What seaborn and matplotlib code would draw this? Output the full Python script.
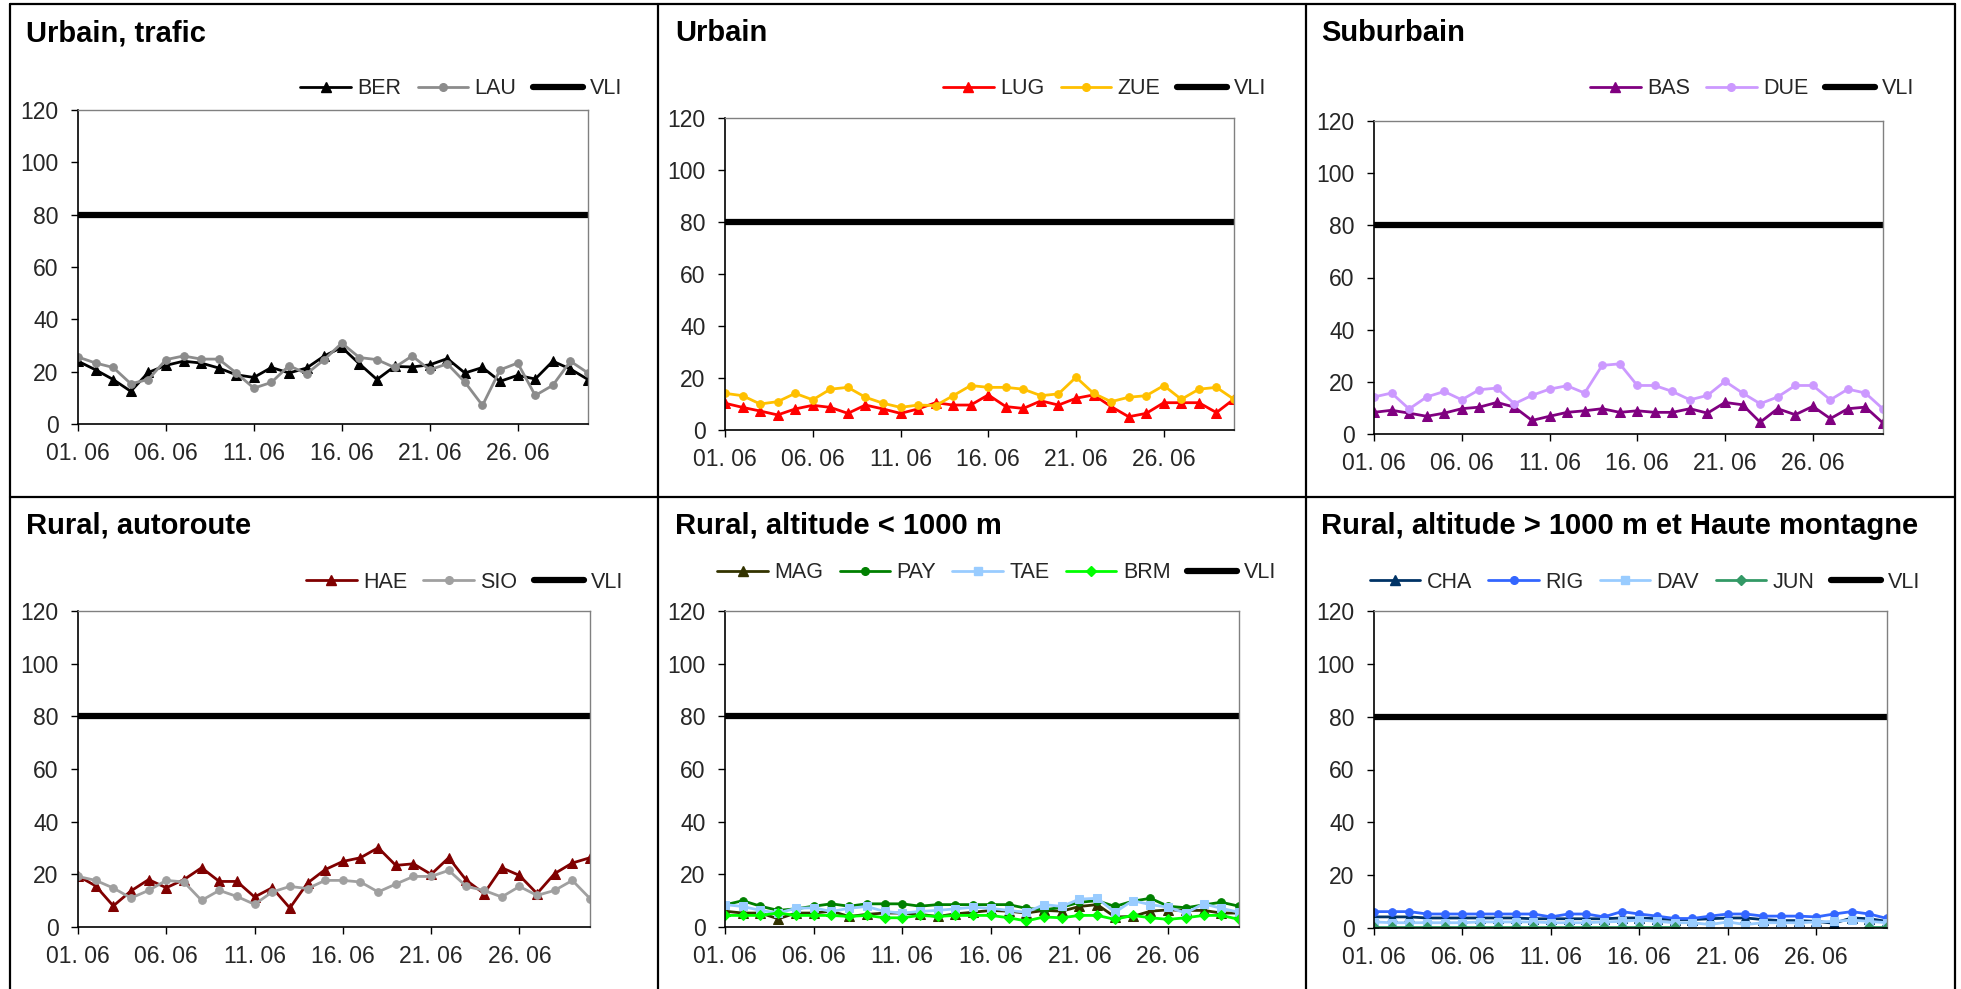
import numpy as np
import pandas as pd
import matplotlib
matplotlib.use("Agg")
import matplotlib.pyplot as plt
import seaborn as sns
from matplotlib.lines import Line2D

# ---------------- data ----------------
days = np.arange(1, 31)
tick_days = [1, 6, 11, 16, 21, 26]
tick_labels = ["01. 06", "06. 06", "11. 06", "16. 06", "21. 06", "26. 06"]
y_ticks = [0, 20, 40, 60, 80, 100, 120]
vli_value = 80

titles = ["Urbain, trafic", "Urbain", "Suburbain",
          "Rural, autoroute", "Rural, altitude < 1000 m",
          "Rural, altitude > 1000 m et Haute montagne"]

ber = [24, 20.7, 17, 12.5, 19.7, 22.4, 24, 23.3, 21.4, 18.8, 17.8, 21.6, 19.5, 21.4, 26,
       29.3, 23, 17, 22, 21.8, 22.6, 25, 19.5, 21.6, 16.3, 18.6, 17.2, 24, 21, 17]
lau = [25.6, 23.3, 21.6, 15.4, 17, 24.6, 26, 24.8, 24.8, 19.5, 13.7, 15.9, 22.3, 19.2, 24.6,
       30.9, 25.4, 24.6, 21.6, 26, 20.7, 23, 16, 7.1, 20.7, 23.3, 10.9, 14.8, 24, 19.5]

lug = [10.3, 8.7, 7.3, 5.8, 8.1, 9.5, 8.7, 6.4, 9.6, 8.1, 6.4, 8.1, 10.5, 9.6, 9.6,
       13.5, 9, 8.3, 11.2, 9.6, 12.2, 13.5, 9, 5.1, 6.4, 10.5, 10.5, 10.5, 6.7, 11.9]
zue = [14.1, 13.2, 10, 10.9, 14.1, 11.6, 15.7, 16.4, 12.6, 10.3, 8.7, 9.6, 9.4, 13.2, 17.1,
       16.4, 16.4, 15.7, 13.2, 13.9, 20.3, 14.1, 10.9, 12.6, 13.2, 17.1, 11.8, 15.7, 16.4, 11.8]

bas = [8.3, 9.1, 8, 6.8, 8, 9.7, 10.3, 12.1, 10.3, 5.2, 6.8, 8.3, 8.9, 9.7, 8.3,
       8.9, 8.3, 8.3, 9.7, 8, 12.1, 11.2, 4.5, 9.7, 7.4, 10.6, 5.9, 9.7, 10.3, 4.2]
due = [14.2, 15.7, 9.6, 14.2, 16.3, 13.1, 17, 17.6, 11.6, 14.8, 17.2, 18.5, 15.7, 26.3, 26.9,
       18.6, 18.6, 16.3, 13.1, 14.8, 20.2, 15.7, 11.6, 14.2, 18.6, 18.6, 13.1, 17.2, 15.7, 9.6]

hae = [19.4, 15.6, 8, 13.7, 18, 14.9, 18, 22.5, 17.3, 17.3, 11.4, 14.9, 7.2, 16.7, 21.8,
       24.9, 26.3, 30.1, 23.4, 24, 20, 26.3, 17.7, 12.7, 22.5, 19.6, 12.7, 20.3, 24.3, 26.3]
sio = [19.2, 17.7, 14.8, 11, 13.9, 17.7, 17.1, 10.1, 13.9, 11.6, 8.6, 13.3, 15.4, 14.6, 17.7,
       17.7, 17.1, 13.3, 16.3, 19.2, 19.2, 21.5, 15.4, 13.9, 11.4, 15.4, 12, 13.9, 17.7, 10.8]

mag = [6, 5.3, 5.3, 3.1, 5.3, 5.3, 6, 4, 4.8, 5.3, 5.3, 4.8, 4, 5, 5.6,
       6.3, 6, 5.3, 6.3, 6, 7.8, 8.5, 3.8, 4, 6, 6.5, 6.3, 6.3, 5.3, 5.3]
pay = [8.4, 10, 7.9, 6.3, 6.9, 7.9, 8.8, 7.9, 8.8, 8.8, 8.8, 7.9, 8.5, 8.5, 8.5,
       8.5, 8.5, 7.1, 6.5, 7.5, 9.4, 10, 7.8, 9.8, 10.9, 7.9, 7.3, 8.4, 9.4, 7.9]
tae = [8.5, 7.8, 6.3, 5.3, 7.1, 7.3, 5.9, 7.1, 7.8, 5.9, 5.3, 5.9, 6.3, 6.9, 7.5,
       7.1, 6.3, 5.6, 8.5, 7.8, 10.6, 10.9, 5.6, 10, 8.5, 7.5, 5.3, 8.8, 7.1, 5.6]
brm = [4.4, 4.4, 4.4, 5.3, 4.4, 4.4, 4.4, 4, 4.4, 3.5, 3.5, 4.4, 4, 4.4, 4.4,
       4.4, 3.5, 2.3, 3.8, 3.5, 4.4, 4.4, 2.9, 4.4, 3.5, 2.9, 3.5, 4.4, 4.4, 2.9]

cha = [4.2, 4.2, 4.2, 3.8, 3.8, 3.8, 3.8, 3.8, 3.8, 3.5, 3.5, 3.5, 3.5, 3.5, 3.8,
       3.8, 3.5, 3.2, 3.2, 3.5, 3.8, 3.8, 3.2, 2.8, 2.8, 2.5, 1.8, 3.8, 3.5, 2.5]
rig = [6.2, 6.2, 6.2, 5.3, 5.3, 5.3, 5.3, 5.3, 5.3, 5.3, 4.2, 5.3, 5.3, 4.2, 6.2,
       5.3, 4.5, 3.6, 3.6, 4.5, 5.3, 5.3, 4.5, 4.5, 4.5, 4.2, 5.3, 6.2, 5.3, 3.6]
dav = [2.3, 2.0, 2.0, 2.0, 2.0, 2.0, 2.3, 2.3, 2.3, 2.3, 2.0, 2.0, 2.0, 2.3, 2.5,
       3.0, 2.5, 2.0, 2.0, 1.3, 2.3, 1.3, 2.0, 2.0, 2.0, 2.3, 2.5, 3.0, 2.5, 2.0]
jun = [0.5, 0.5, 0.5, 0.5, 0.5, 0.5, 0.5, 0.5, 0.5, 0.5, 0.5, 0.5, 0.5, 0.5, 0.5,
       0.5, 0.5, 0.5, np.nan, np.nan, np.nan, np.nan, np.nan, np.nan, np.nan,
       np.nan, np.nan, np.nan, 0.5, 0.5]

panels = [
    [("BER", ber, "#000000", "^", 7), ("LAU", lau, "#8C8C8C", "o", 5.5)],
    [("LUG", lug, "#FF0000", "^", 7), ("ZUE", zue, "#FFC000", "o", 5.5)],
    [("BAS", bas, "#800080", "^", 7), ("DUE", due, "#CC99FF", "o", 5.5)],
    [("HAE", hae, "#800000", "^", 7), ("SIO", sio, "#A0A0A0", "o", 5.5)],
    [("MAG", mag, "#333300", "^", 6.5), ("PAY", pay, "#008000", "o", 5.5),
     ("TAE", tae, "#99CCFF", "s", 5.5), ("BRM", brm, "#00FF00", "D", 5.5)],
    [("CHA", cha, "#003366", "^", 6.5), ("RIG", rig, "#3366FF", "o", 5.5),
     ("DAV", dav, "#99CCFF", "s", 5.5), ("JUN", jun, "#339966", "D", 5.5)],
]

# ---------------- layout (pixels) ----------------
W, H = 1961, 989
axes_px = [(78, 110, 588, 424), (725, 118, 1234, 430), (1374, 121, 1883, 434),
           (78, 611, 590, 927), (725, 611, 1239, 927), (1374, 611, 1887, 928)]
title_px = [(26, 33), (675, 33), (1321, 33), (26, 526), (675, 526), (1321, 526)]
legend_px = [(622, 89), (1266, 89), (1914, 89), (623, 582), (1276, 573), (1920, 582)]

sns.set_theme(style="white")
plt.rcParams["font.family"] = ["Liberation Sans", "DejaVu Sans"]
tick_size = 16.5
legend_size = 15.5

fig = plt.figure(figsize=(W / 100, H / 100), dpi=100)
fig.patch.set_facecolor("white")


def fx(px):
    return px / W


def fy(py):
    return 1 - py / H


for i, (series, (l, t, r, b)) in enumerate(zip(panels, axes_px)):
    ax = fig.add_axes([fx(l), fy(b), fx(r) - fx(l), fy(t) - fy(b)])
    handles = []
    for name, vals, col, mk, ms in series:
        v = np.asarray(vals, dtype=float)
        valid = ~np.isnan(v)
        # split into contiguous runs so gaps stay gaps
        run_id = np.cumsum(~valid)
        for rid in np.unique(run_id[valid]):
            m = valid & (run_id == rid)
            sns.lineplot(x=days[m], y=v[m], ax=ax, color=col, marker=mk,
                         markersize=ms, markeredgecolor=col, linewidth=2.0,
                         estimator=None, sort=False, legend=False)
        handles.append(Line2D([], [], color=col, marker=mk, markersize=ms,
                              markeredgecolor=col, linewidth=2.0, label=name))
    sns.lineplot(x=days, y=np.full(len(days), vli_value), ax=ax, color="black",
                 linewidth=4.5, estimator=None, legend=False)
    handles.append(Line2D([], [], color="black", linewidth=4.5, label="VLI"))

    ax.set_xlim(1, 30)
    ax.set_ylim(0, 120)
    ax.set_xticks(tick_days)
    ax.set_xticklabels(tick_labels)
    ax.set_yticks(y_ticks)
    ax.set_xlabel("")
    ax.set_ylabel("")
    ax.tick_params(axis="x", direction="out", length=5, width=1, color="black",
                   labelsize=tick_size, pad=8, bottom=True)
    ax.tick_params(axis="y", direction="out", length=5, width=1, color="black",
                   labelsize=tick_size, pad=9, left=True)
    for side in ["left", "bottom"]:
        ax.spines[side].set_color("black")
        ax.spines[side].set_linewidth(1.2)
    for side in ["top", "right"]:
        ax.spines[side].set_color("#808080")
        ax.spines[side].set_linewidth(1.0)
    ax.grid(False)

    lx, ly = legend_px[i]
    ax.legend(handles=handles, loc="center right", bbox_to_anchor=(fx(lx), fy(ly)),
              bbox_transform=fig.transFigure, ncol=len(handles), frameon=False,
              fontsize=legend_size, handlelength=2.35, handletextpad=0.3,
              columnspacing=0.75, numpoints=1, borderpad=0, borderaxespad=0)

    tx, ty = title_px[i]
    fig.text(fx(tx), fy(ty), titles[i], fontsize=21, fontweight="bold",
             ha="left", va="center", color="black")

# table borders
lw = 1.6
for xp in [10, 658, 1306, 1955]:
    fig.add_artist(Line2D([fx(xp), fx(xp)], [fy(4), fy(H + 5)],
                          color="black", linewidth=lw))
for yp in [4, 497]:
    fig.add_artist(Line2D([fx(10), fx(1955)], [fy(yp), fy(yp)],
                          color="black", linewidth=lw))

fig.savefig("out.png", dpi=100, facecolor="white")
